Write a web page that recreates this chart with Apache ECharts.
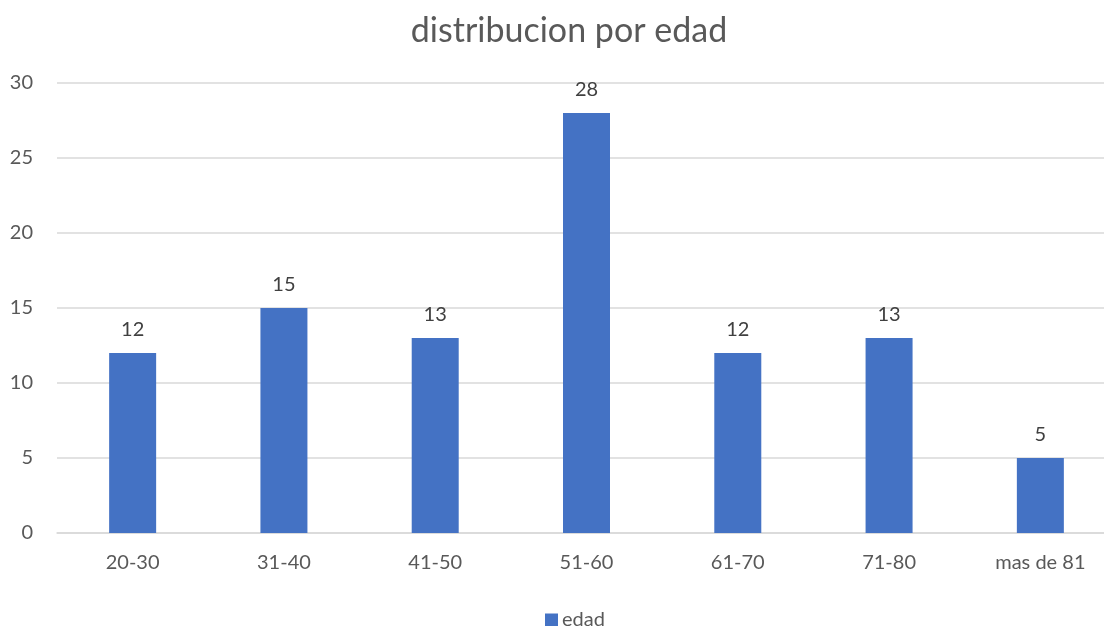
<!DOCTYPE html>
<html>
<head>
<meta charset="utf-8">
<script src="https://cdn.jsdelivr.net/npm/echarts@6/dist/echarts.min.js"></script>
<style>
  html, body { margin: 0; padding: 0; background: #fff; overflow: hidden; }
  #chart { width: 1116px; height: 626px; }
</style>
</head>
<body>
<div id="chart"></div>
<script>
// Age bands and counts
const categories = ['20-30', '31-40', '41-50', '51-60', '61-70', '71-80', 'mas de 81'];
const edad = [12, 15, 13, 28, 12, 13, 5];
const yTicks = { min: 0, max: 30, interval: 5 };

const font = 'Lato, "Open Sans", sans-serif';
const chart = echarts.init(document.getElementById('chart'));
chart.setOption({
  animation: false,
  backgroundColor: '#ffffff',
  title: {
    text: 'distribucion por edad',
    left: 564,
    textAlign: 'center',
    top: 9,
    textStyle: { fontFamily: font, fontSize: 34, fontWeight: 'normal', color: '#595959' }
  },
  legend: {
    data: ['edad'],
    left: 540,
    top: 605,
    itemWidth: 13,
    itemHeight: 13,
    itemGap: 5,
    icon: 'rect',
    textStyle: { fontFamily: font, fontSize: 20, color: '#595959', padding: [0, 0, 0, -1] }
  },
  grid: { left: 57, right: 0, top: 83, bottom: 93, containLabel: false },
  xAxis: {
    type: 'category',
    data: categories,
    axisLine: { show: true, lineStyle: { color: '#d9d9d9', width: 1.5 } },
    axisTick: { show: false },
    axisLabel: { fontFamily: font, fontSize: 20, color: '#595959', margin: 20 }
  },
  yAxis: {
    type: 'value',
    min: yTicks.min,
    max: yTicks.max,
    interval: yTicks.interval,
    axisLine: { show: false },
    axisTick: { show: false },
    axisLabel: { fontFamily: font, fontSize: 20, color: '#595959', margin: 24, align: 'right' },
    splitLine: { lineStyle: { color: '#d9d9d9', width: 1.5 } }
  },
  series: [{
    name: 'edad',
    type: 'bar',
    data: edad,
    barWidth: 47,
    itemStyle: { color: '#4472c4' },
    label: {
      show: true,
      position: 'top',
      distance: 13,
      fontFamily: font,
      fontSize: 20,
      color: '#404040'
    }
  }]
});
</script>
</body>
</html>
